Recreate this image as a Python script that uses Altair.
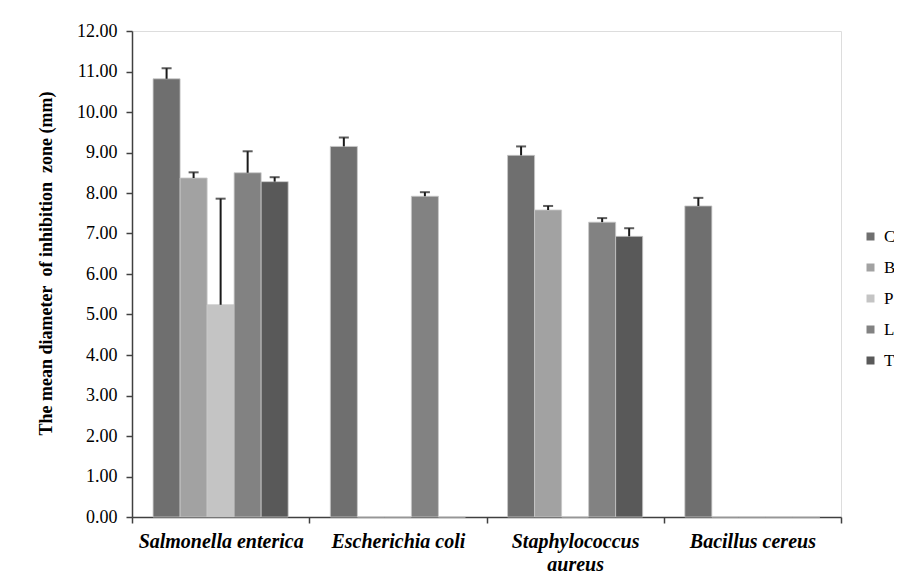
import altair as alt
import pandas as pd

species = ["Salmonella enterica", "Escherichia coli", "Staphylococcus aureus", "Bacillus cereus"]
treatments = ["C", "B", "P", "L", "T"]
mean_C = [10.82, 9.15, 8.93, 7.68]
mean_B = [8.37, 0.0, 7.58, 0.0]
mean_P = [5.24, 0.0, 0.0, 0.0]
mean_L = [8.50, 7.92, 7.28, 0.0]
mean_T = [8.28, 0.0, 6.93, 0.0]
err_C = [0.26, 0.22, 0.22, 0.20]
err_B = [0.14, 0.0, 0.10, 0.0]
err_P = [2.62, 0.0, 0.0, 0.0]
err_L = [0.53, 0.10, 0.10, 0.0]
err_T = [0.11, 0.0, 0.20, 0.0]
colors = ["#6f6f6f", "#a2a2a2", "#c4c4c4", "#828282", "#595959"]
y_title = "The mean diameter\u00a0 of inhibition\u00a0 zone (mm)"

means = [mean_C, mean_B, mean_P, mean_L, mean_T]
errs = [err_C, err_B, err_P, err_L, err_T]
rows = []
for t, m, e in zip(treatments, means, errs):
    for s, v, d in zip(species, m, e):
        rows.append({"species": s, "treatment": t, "value": v, "err": d, "top": v + d})
df = pd.DataFrame(rows)

SERIF = "Liberation Serif"

x_enc = alt.X(
    "species:N",
    sort=species,
    scale=alt.Scale(paddingInner=0, paddingOuter=0),
    axis=alt.Axis(
        title=None,
        labelAngle=0,
        labelFont=SERIF,
        labelFontSize=20,
        labelFontWeight="bold",
        labelFontStyle="italic",
        labelColor="#000000",
        labelPadding=8,
        labelLineHeight=23,
        labelExpr="datum.value == 'Staphylococcus aureus' ? ['Staphylococcus', 'aureus'] : datum.value",
        tickBand="extent",
        tickSize=6,
        tickColor="#404040",
        domainColor="#404040",
        tickWidth=1.5,
        domainWidth=1.5,
    ),
)
xoff = alt.XOffset("treatment:N", sort=treatments, scale=alt.Scale(paddingInner=0, paddingOuter=0.78))

bars = alt.Chart(df).mark_bar(stroke="#c8c8c8", strokeWidth=0.8).encode(
    x=x_enc,
    xOffset=xoff,
    y=alt.Y(
        "value:Q",
        scale=alt.Scale(domain=[0, 12], nice=False),
        axis=alt.Axis(
            title=y_title,
            titleFont=SERIF,
            titleFontSize=18,
            titleFontWeight="bold",
            titleColor="#000000",
            titlePadding=21,
            titleY=232,
            values=list(range(0, 13)),
            format=".2f",
            labelFont=SERIF,
            labelFontSize=18,
            labelColor="#000000",
            labelPadding=9,
            tickSize=6,
            tickColor="#404040",
            domainColor="#404040",
            tickWidth=1.5,
            domainWidth=1.5,
            grid=False,
        ),
    ),
    color=alt.Color(
        "treatment:N",
        sort=treatments,
        scale=alt.Scale(domain=treatments, range=colors),
        legend=alt.Legend(
            title=None,
            orient="none",
            legendX=730,
            legendY=197,
            symbolType="square",
            symbolSize=64,
            symbolStrokeWidth=0,
            labelFont=SERIF,
            labelFontSize=17,
            labelColor="#000000",
            labelOffset=5,
            rowPadding=13,
        ),
    ),
)

err_df = df[df["err"] > 0]
rules = alt.Chart(err_df).mark_rule(color="#1a1a1a", strokeWidth=2).encode(
    x=alt.X("species:N", sort=species),
    xOffset=xoff,
    y="value:Q",
    y2="top:Q",
)
caps = alt.Chart(err_df).mark_tick(color="#1a1a1a", thickness=2, size=10, orient="horizontal").encode(
    x=alt.X("species:N", sort=species),
    xOffset=xoff,
    y="top:Q",
)

chart = (
    alt.layer(bars, rules, caps)
    .properties(
        width=709,
        height=486,
        padding={"left": 124, "top": 23, "right": 53, "bottom": 57},
        autosize=alt.AutoSizeParams(type="none"),
    )
    .configure_view(stroke=None)
    .configure(background="#ffffff")
)

chart.save("out.html", embed_options={"renderer": "svg", "actions": False})
